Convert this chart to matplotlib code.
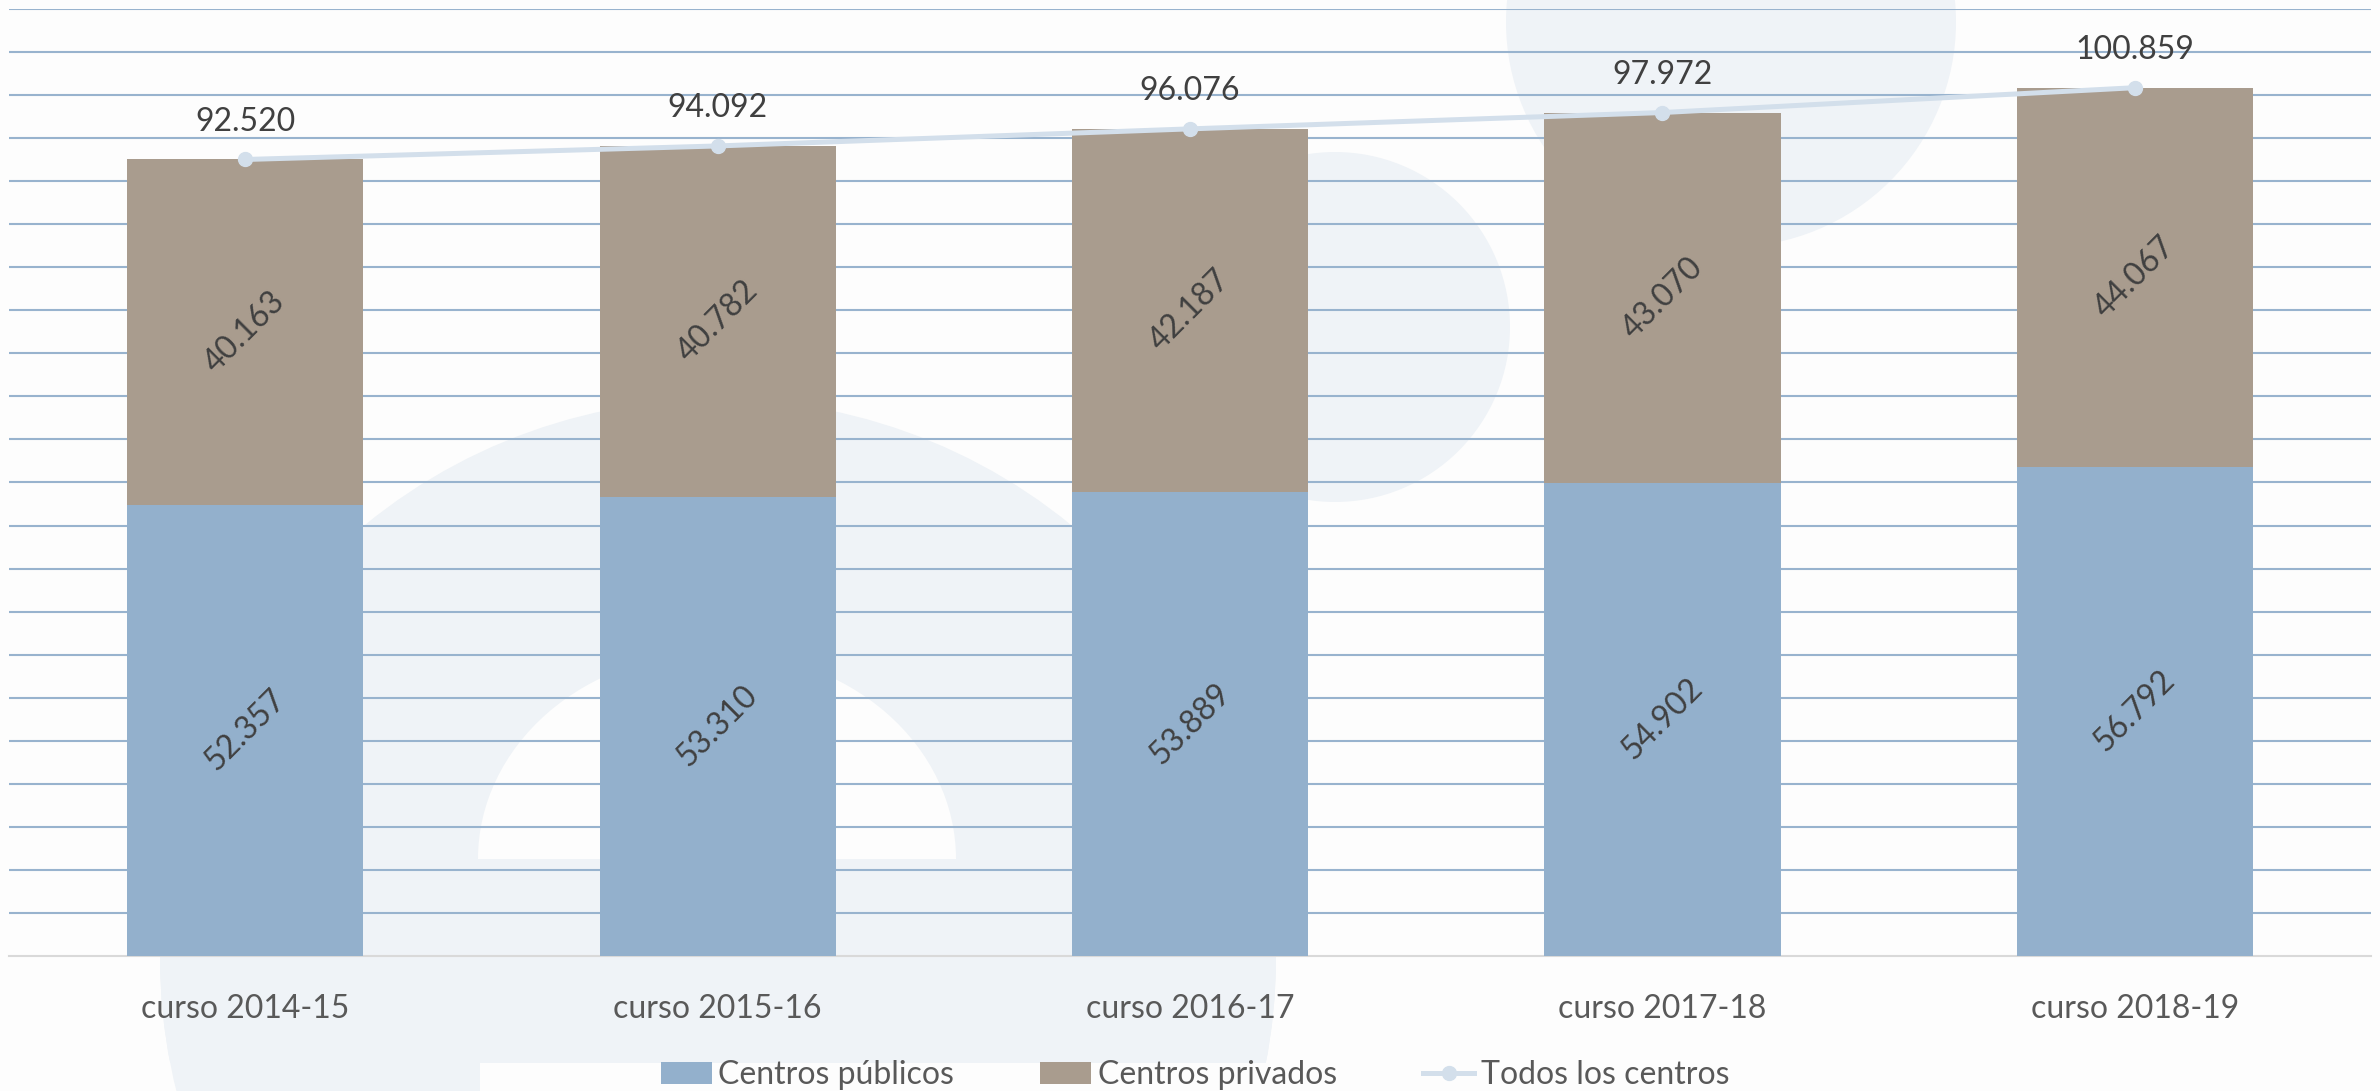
import matplotlib.pyplot as plt
import numpy as np
from matplotlib.patches import Circle, Ellipse, Rectangle

plt.rcParams['font.family'] = ['Lato', 'DejaVu Sans']

# --- datos ---
cursos = ['curso 2014-15', 'curso 2015-16', 'curso 2016-17', 'curso 2017-18', 'curso 2018-19']
publicos = [52357, 53310, 53889, 54902, 56792]
privados = [40163, 40782, 42187, 43070, 44067]
todos = [92520, 94092, 96076, 97972, 100859]

c_pub = '#93B0CC'
c_priv = '#A99C8E'
c_line = '#D3DFEB'
c_wm = '#EFF3F7'

fig = plt.figure(figsize=(23.8, 10.91), dpi=100)
fig.patch.set_facecolor('#FDFDFD')

# --- marca de agua (fondo), en pixeles ---
bg = fig.add_axes([0, 0, 1, 1], zorder=-10)
bg.set_xlim(0, 2380)
bg.set_ylim(1091, 0)
bg.axis('off')
bg.add_patch(Circle((1731, 22), 225, color=c_wm, lw=0))
bg.add_patch(Circle((1335, 327), 175, color=c_wm, lw=0))
outer = Circle((718, 957), 558, color=c_wm, lw=0)
bg.add_patch(outer)
bg.add_patch(Ellipse((717, 859), 478, 414, color='#FDFDFD', lw=0))
bar_e = Rectangle((140, 859), 1160, 204, color=c_wm, lw=0)
bg.add_patch(bar_e)
bar_e.set_clip_path(outer)
bg.add_patch(Rectangle((480, 1063), 900, 40, color='#FDFDFD', lw=0))

# --- grafico ---
ax = fig.add_axes([9 / 2380, 1 - 956 / 1091, 2362 / 2380, 947 / 1091])
ax.patch.set_alpha(0)
x = np.arange(len(cursos))

b1 = ax.bar(x, publicos, width=0.5, color=c_pub, label='Centros públicos', zorder=3)
b2 = ax.bar(x, privados, width=0.5, bottom=publicos, color=c_priv, label='Centros privados', zorder=3)
ln, = ax.plot(x, todos, color=c_line, lw=3.6, marker='o', ms=10, label='Todos los centros', zorder=4)

for i in range(len(x)):
    ax.text(x[i], publicos[i] / 2, f'{publicos[i] / 1000:.3f}', rotation=45, ha='center', va='center',
            rotation_mode='anchor', fontsize=23, color='#404040', zorder=5)
    ax.text(x[i], publicos[i] + privados[i] / 2, f'{privados[i] / 1000:.3f}', rotation=45, ha='center',
            va='center', rotation_mode='anchor', fontsize=23, color='#404040', zorder=5)
    ax.annotate(f'{todos[i] / 1000:.3f}', (x[i], todos[i]), xytext=(0, 27), textcoords='offset points',
                ha='center', va='center', fontsize=23, color='#404040', zorder=5)

ax.set_xlim(-0.5, 4.5)
ax.set_ylim(0, 110000)
ax.set_yticks(np.arange(5000, 110001, 5000))
ax.yaxis.grid(True, color='#98B3CE', lw=1.5, zorder=0)
ax.set_axisbelow(True)
ax.tick_params(axis='y', length=0, labelleft=False)
ax.set_xticks(x)
ax.set_xticklabels(cursos, fontsize=23, color='#595959')
ax.tick_params(axis='x', length=0, pad=27)
for s in ['top', 'right', 'left']:
    ax.spines[s].set_visible(False)
ax.spines['bottom'].set_color('#D9D9D9')
ax.spines['bottom'].set_linewidth(1.5)

leg = fig.legend(handles=[b1, b2, ln], loc='center', bbox_to_anchor=(0.502, 1 - 1075 / 1091), ncol=3,
                 frameon=False, fontsize=23, handlelength=1.6, handletextpad=0.2, columnspacing=2.7,
                 borderpad=0)
for t in leg.get_texts():
    t.set_color('#595959')

fig.savefig('out.png', dpi=100, facecolor=fig.get_facecolor())
